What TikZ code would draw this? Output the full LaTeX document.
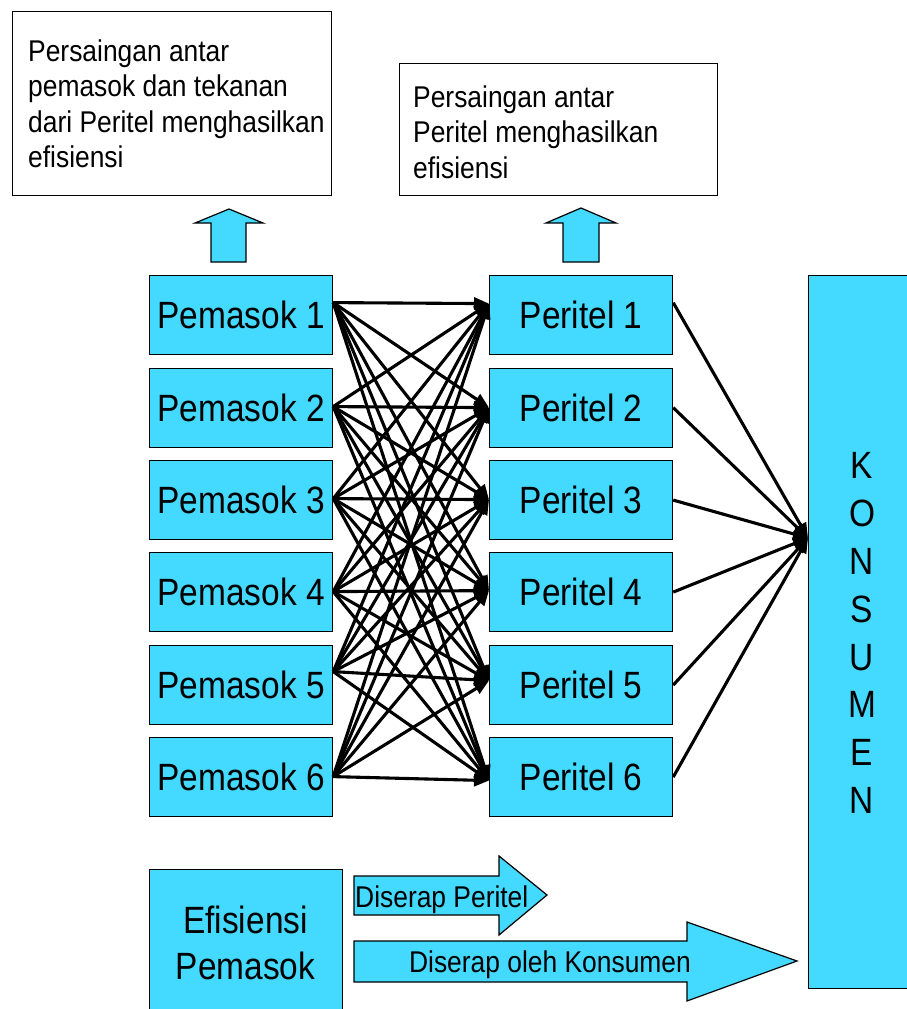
\documentclass[tikz,border=0pt]{standalone}
\usepackage{fontspec}
\setmainfont[FakeStretch=0.88]{Liberation Sans}
\usetikzlibrary{arrows.meta,calc}
\definecolor{cy}{RGB}{68,217,255}
\begin{document}
\begin{tikzpicture}[x=1pt,y=-1pt,
  box/.style={draw=black, line width=1.2pt, fill=cy, inner sep=0pt},
  wbox/.style={draw=black, line width=1.2pt, fill=white, inner sep=0pt},
  pbox/.style={box, minimum width=183pt, minimum height=79pt, anchor=north west,
    font=\fontsize{38}{46}\selectfont, text depth=0pt},
  txt/.style={inner sep=0pt, align=left, font=\fontsize{30}{35.5}\selectfont},
  blk/.style={draw=black, line width=1.2pt, fill=cy, line join=miter},
  conn/.style={line width=3.1pt, -{Triangle[length=15pt,width=12pt]}},
  lbl/.style={inner sep=0pt, font=\fontsize{30}{36}\selectfont}]
\useasboundingbox (0,0) rectangle (906,1009);

% top text boxes
\node[wbox, minimum width=319pt, minimum height=184pt, anchor=north west] (b1) at (12,11) {};
\node[txt, anchor=north west] (b1t) at (28,39.5) {Persaingan antar\\pemasok dan tekanan\\dari Peritel menghasilkan\\efisiensi};
\node[wbox, minimum width=318pt, minimum height=132pt, anchor=north west] (b2) at (399,63) {};
\node[txt, anchor=north west] (b2t) at (413,85.5) {Persaingan antar\\Peritel menghasilkan\\efisiensi};

% up block arrows
\draw[blk] (211,262) -- (211,223) -- (195,223) -- (229,209) -- (263,223) -- (246,223) -- (246,262) -- cycle;
\draw[blk] (563,262) -- (563,223) -- (546,223) -- (581,208) -- (616,223) -- (599,223) -- (599,262) -- cycle;

% Pemasok and Peritel
\node[pbox] (p1) at (149,275) {Pemasok 1};
\node[pbox] (p2) at (149,367.5) {Pemasok 2};
\node[pbox] (p3) at (149,460) {Pemasok 3};
\node[pbox] (p4) at (149,552) {Pemasok 4};
\node[pbox] (p5) at (149,645) {Pemasok 5};
\node[pbox] (p6) at (149,737) {Pemasok 6};
\node[pbox] (r1) at (489,275) {Peritel 1};
\node[pbox] (r2) at (489,367.5) {Peritel 2};
\node[pbox] (r3) at (489,460) {Peritel 3};
\node[pbox] (r4) at (489,552) {Peritel 4};
\node[pbox] (r5) at (489,645) {Peritel 5};
\node[pbox] (r6) at (489,737) {Peritel 6};

% Konsumen
\node[box, minimum width=100pt, minimum height=713pt, anchor=north west] (kons) at (808,275) {};
\node[inner sep=0pt, align=center, font=\fontsize{38}{47.9}\selectfont] (konst) at (862,633) {K\\O\\N\\S\\U\\M\\E\\N};

% connection points
\coordinate (s1) at ($(p1.east)+(0,-12.5)$);
\coordinate (s2) at ($(p2.east)+(0,-1)$);
\coordinate (s3) at ($(p3.east)+(0,-1.5)$);
\coordinate (s4) at ($(p4.east)+(0,-0.5)$);
\coordinate (s5) at ($(p5.east)+(0,-13.5)$);
\coordinate (s6) at ($(p6.east)+(0,-0.5)$);
\coordinate (t1) at ($(r1.west)+(0,-11.5)$);
\coordinate (t2) at ($(r2.west)+(0,0)$);
\coordinate (t3) at ($(r3.west)+(0,-0.5)$);
\coordinate (t4) at ($(r4.west)+(0,-1.5)$);
\coordinate (t5) at ($(r5.west)+(0,-4.5)$);
\coordinate (t6) at ($(r6.west)+(0,3.5)$);
\coordinate (u1) at ($(r1.east)+(0,-12.5)$);
\coordinate (kin) at ($(kons.north west)+(0,263)$);

\foreach \i in {1,...,6}{
  \foreach \j in {1,...,6}{
    \draw[conn] (s\i) -- (t\j);
  }
}
\draw[conn] (u1) -- (kin);
\foreach \j in {2,...,6}{
  \draw[conn] (r\j.east) -- (kin);
}

% bottom
\node[box, minimum width=193pt, minimum height=145pt, anchor=north west] (ef) at (149,869) {};
\node[inner sep=0pt, align=center, font=\fontsize{38}{46}\selectfont, anchor=north] (eft) at (245.5,906) {Efisiensi\\Pemasok};

\draw[blk] (354,876) -- (499,876) -- (499,856) -- (547,895) -- (499,935) -- (499,915) -- (354,915) -- cycle;
\node[lbl, anchor=base west] (dp) at (355,907) {Diserap Peritel};
\draw[blk] (354,941) -- (687,941) -- (687,922) -- (797,961) -- (687,1001) -- (687,982) -- (354,982) -- cycle;
\node[lbl, anchor=base] (dk) at (550,972) {Diserap oleh Konsumen};
\end{tikzpicture}
\end{document}
